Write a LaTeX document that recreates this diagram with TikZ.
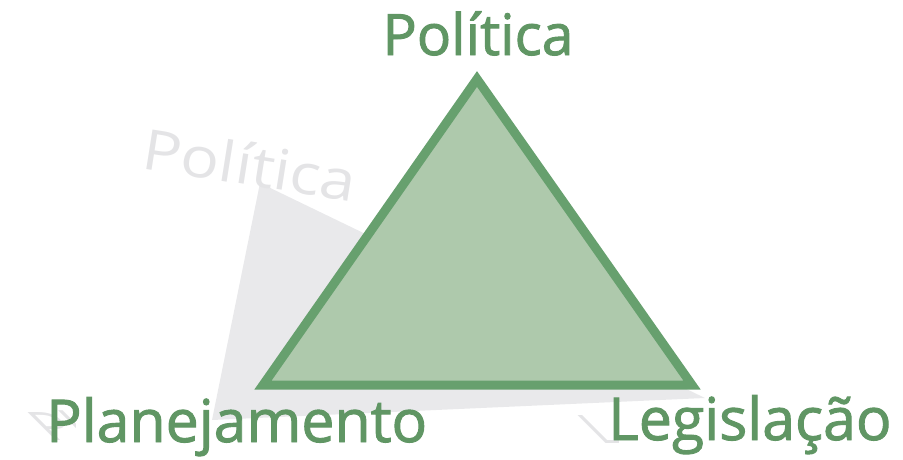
\documentclass[tikz,border=0pt]{standalone}
\usepackage{fontspec}
\setmainfont{Open Sans}
\newfontfamily\labelfont{Open Sans}[FakeBold=1.6]
\usepackage{tikz}

\definecolor{leafgreen}{RGB}{96,150,100}
\definecolor{edgegreen}{RGB}{103,160,110}
\definecolor{fillgreen}{RGB}{174,201,172}
\definecolor{shadowgray}{RGB}{233,233,235}
\definecolor{ghostgray}{RGB}{228,228,230}

\begin{document}
\begin{tikzpicture}[x=1pt,y=-1pt,
    vertexlabel/.style={inner sep=0pt,text=leafgreen,font=\labelfont\fontsize{59}{62}\selectfont},
    ghostlabel/.style={inner sep=0pt,text=ghostgray,font=\fontsize{56}{60}\selectfont}]
\useasboundingbox (0,0) rectangle (903,459);
% shadow of the triangle
\begin{scope}
    \fill[shadowgray] (260,183) -- (212,420) -- (705,398) -- cycle;
    \node[ghostlabel,rotate=-9,xscale=1.15,anchor=base west] (ghostpol) at (140,168) {Política};
\end{scope}
\begin{scope}
    \clip (0,380) rectangle (75,459) (570,380) rectangle (618,459);
    \node[ghostlabel,xslant=-1,yscale=0.7,anchor=base west] (ghostplan) at (50,440) {Planejamento};
    \node[ghostlabel,xslant=-1,yscale=0.7,anchor=base west] (ghostleg) at (600,443) {Legislação};
\end{scope}
% the triangle
\coordinate (top) at (477,79);
\coordinate (left) at (263,385);
\coordinate (right) at (692,385);
\draw[edgegreen,fill=fillgreen,line width=9pt,line join=miter] (top) -- (left) -- (right) -- cycle;
% vertex labels
\node[vertexlabel,anchor=base,font=\labelfont\fontsize{57}{60}\selectfont] (pol) at (478,55) {Política};
\node[vertexlabel,anchor=base west] (plan) at (46,442) {Planejamento};
\node[vertexlabel,anchor=base west] (leg) at (608,440) {Legislação};
\end{tikzpicture}
\end{document}
